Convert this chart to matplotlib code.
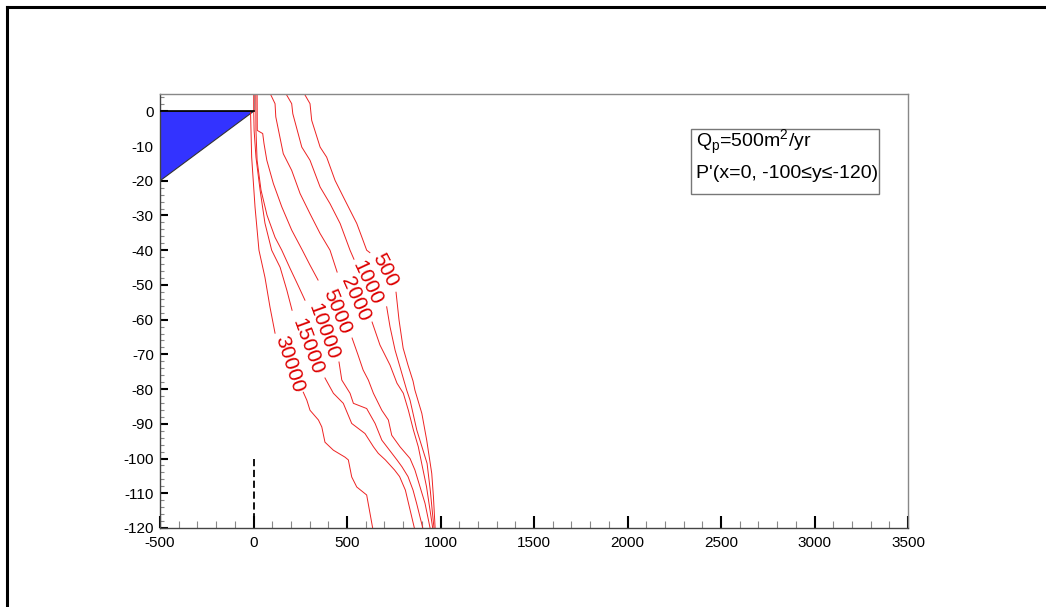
import matplotlib.pyplot as plt
import numpy as np
from matplotlib.lines import Line2D
from matplotlib.patches import Rectangle
from matplotlib.ticker import MultipleLocator

plt.rcParams['font.family'] = ['Liberation Sans', 'DejaVu Sans']
plt.rcParams['axes.unicode_minus'] = False

nan = np.nan

# isolines, nan = gap where the label sits
c500_x = [272, 302, 311, 356, 391, 436, 489, 552, 579, 605, 622, nan,
          762, 778, 800, 826, 853, 863, 900, 926, 953, 962, 971]
c500_y = [5, 2.2, -2.6, -10.3, -13.2, -19.9, -25.6, -32.3, -36.2, -40.0, -40.7, nan,
          -52.1, -60.1, -68.2, -73.1, -77.7, -80.3, -87.0, -94.7, -104.3, -111.0, -120]

c1000_x = [174, 204, 210, 258, 302, 356, 409, 463, 516, 537, nan,
           712, 730, 757, 783, 819, 837, 873, 928, 945, 957, 965]
c1000_y = [5, 2.2, -0.7, -10.3, -14.1, -21.8, -26.6, -32.3, -40.0, -42.6, nan,
           -56.3, -62.1, -68.8, -73.6, -80.3, -83.2, -91.8, -101.4, -109.1, -115.8, -120]

c2000_x = [90, 115, 119, 159, 204, 249, 302, 356, 409, 447, nan,
           634, 676, 730, 767, 801, 828, 855, 881, 903, 925, 958]
c2000_y = [5, 2.2, -1.6, -12.2, -17.0, -23.7, -29.5, -35.2, -40.0, -46.3, nan,
           -60.7, -67.3, -73.1, -78.3, -81.2, -86.1, -91.8, -96.6, -102.4, -108.1, -120]

c5000_x = [19, 20, 49, 56, 71, 106, 151, 204, 261, 302, 345, nan,
           527, 559, 586, 614, 641, 686, 721, 739, 783, 837, 863, 890, 917, 944]
c5000_y = [5, -5.5, -6.4, -9.3, -14.1, -20.8, -27.5, -34.2, -40.0, -44.3, -48.6, nan,
           -65.3, -70.2, -74.5, -77.4, -81.2, -86.1, -88.9, -93.3, -96.6, -100.0, -103.3,
           -108.1, -112.9, -120]

c10000_x = [12, 13, 19, 40, 72, 115, 151, 195, 238, 275, nan,
            457, 472, 516, 534, 605, 650, 686, 767, 794, 826, 853, 872, 905]
c10000_y = [5, -5.5, -14.1, -22.7, -29.9, -36.3, -40.0, -45.2, -50.1, -54.4, nan,
            -72.2, -77.4, -81.2, -84.1, -85.6, -89.9, -94.7, -100.4, -102.4, -105.2,
            -109.1, -112.9, -120]

c15000_x = [1, 1, 3, 13, 35, 61, 97, 142, 178, 206, nan,
            382, 427, 480, 525, 596, 641, 667, 705, 754, 781, 812, 860]
c15000_y = [5, 0, -5.5, -13.2, -22.7, -32.2, -40.0, -44.9, -51.5, -57.3, nan,
            -76.8, -81.2, -84.1, -89.9, -92.8, -96.6, -98.5, -100.4, -103.3, -105.2,
            -109.1, -120]

c30000_x = [-16, -10, 8, 29, 61, 88, 115, nan,
            266, 285, 302, 347, 365, 382, 427, 489, 507, 525, 552, 605, 637]
c30000_y = [-0.3, -13.2, -27.6, -40.0, -47.8, -56.4, -63.9, nan,
            -80.9, -83.2, -86.1, -88.9, -90.9, -95.3, -97.6, -99.6, -100.4, -105.3,
            -108.2, -110.5, -120]

levels = ['500', '1000', '2000', '5000', '10000', '15000', '30000']
lines_x = [c500_x, c1000_x, c2000_x, c5000_x, c10000_x, c15000_x, c30000_x]
lines_y = [c500_y, c1000_y, c2000_y, c5000_y, c10000_y, c15000_y, c30000_y]
label_x = [703, 607, 543, 447, 372, 291, 193]
label_y = [-45.8, -49.5, -54.1, -57.8, -63.6, -67.9, -72.8]
label_rot = [-63, -65, -66, -68, -70, -70, -72]

tri_x = [-500, 0, -500]
tri_y = [0, 0, -20]
well_x = [0, 0]
well_y = [-100, -120]

fig = plt.figure(figsize=(10.46, 6.07), dpi=100)
ax = fig.add_axes([0.153, 0.1302, 0.7151, 0.715])

ax.fill(tri_x, tri_y, color='#3333ff', ec='#333333', lw=0.8, zorder=2)
ax.plot([-500, 0], [0, 0], color='black', lw=1.2, zorder=3)
ax.plot([0, 0], [0, 5], color='#999999', lw=0.8)

for xs, ys in zip(lines_x, lines_y):
    ax.plot(xs, ys, color='#ee2222', lw=0.7)
for lab, lx, ly, rot in zip(levels, label_x, label_y, label_rot):
    ax.text(lx, ly, lab, color='#dd0000', fontsize=15, rotation=rot,
            ha='center', va='center', rotation_mode='anchor')

ax.plot(well_x, well_y, color='black', lw=1.3, ls=(0, (4, 2)))

ax.set_xlim(-500, 3500)
ax.set_ylim(-120, 5)
ax.xaxis.set_major_locator(MultipleLocator(500))
ax.xaxis.set_minor_locator(MultipleLocator(100))
ax.yaxis.set_major_locator(MultipleLocator(10))
ax.yaxis.set_minor_locator(MultipleLocator(2))
ax.tick_params(which='both', direction='in', labelsize=11)
ax.tick_params(axis='x', which='major', length=8.5, width=1.5, color='black', pad=6)
ax.tick_params(axis='x', which='minor', length=4.8, width=0.8, color='#888888')
ax.tick_params(axis='y', which='major', length=5.8, width=1.5, color='black', pad=4.5)
ax.tick_params(axis='y', which='minor', length=3, width=0.8, color='#888888')
ax.set_yticks(np.arange(-120, 1, 10))

for s in ['left', 'bottom']:
    ax.spines[s].set_color('#444444')
for s in ['top', 'right']:
    ax.spines[s].set_color('#888888')
for s in ax.spines.values():
    s.set_linewidth(1)

ax.add_patch(Rectangle((0.7099, 0.7696), 0.2513, 0.1498, transform=ax.transAxes,
                       fc='white', ec='#777777', lw=1, zorder=5))
ax.text(0.7166, 0.8756, r'Q$_\mathregular{p}$=500m$^\mathregular{2}$/yr', transform=ax.transAxes,
        fontsize=14, va='baseline', ha='left', zorder=6)
ax.text(0.7166, 0.8065, "P'(x=0, -100\u2264y\u2264-120)", transform=ax.transAxes,
        fontsize=14, va='baseline', ha='left', zorder=6)

# outer frame (only top and left edges are inside the image)
fig.add_artist(Line2D([7 / 1046, 1], [1 - 7 / 607, 1 - 7 / 607], color='black', lw=2.2,
                      transform=fig.transFigure))
fig.add_artist(Line2D([7 / 1046, 7 / 1046], [0, 1 - 7 / 607], color='black', lw=2.2,
                      transform=fig.transFigure))

fig.savefig('out.png', dpi=100)
